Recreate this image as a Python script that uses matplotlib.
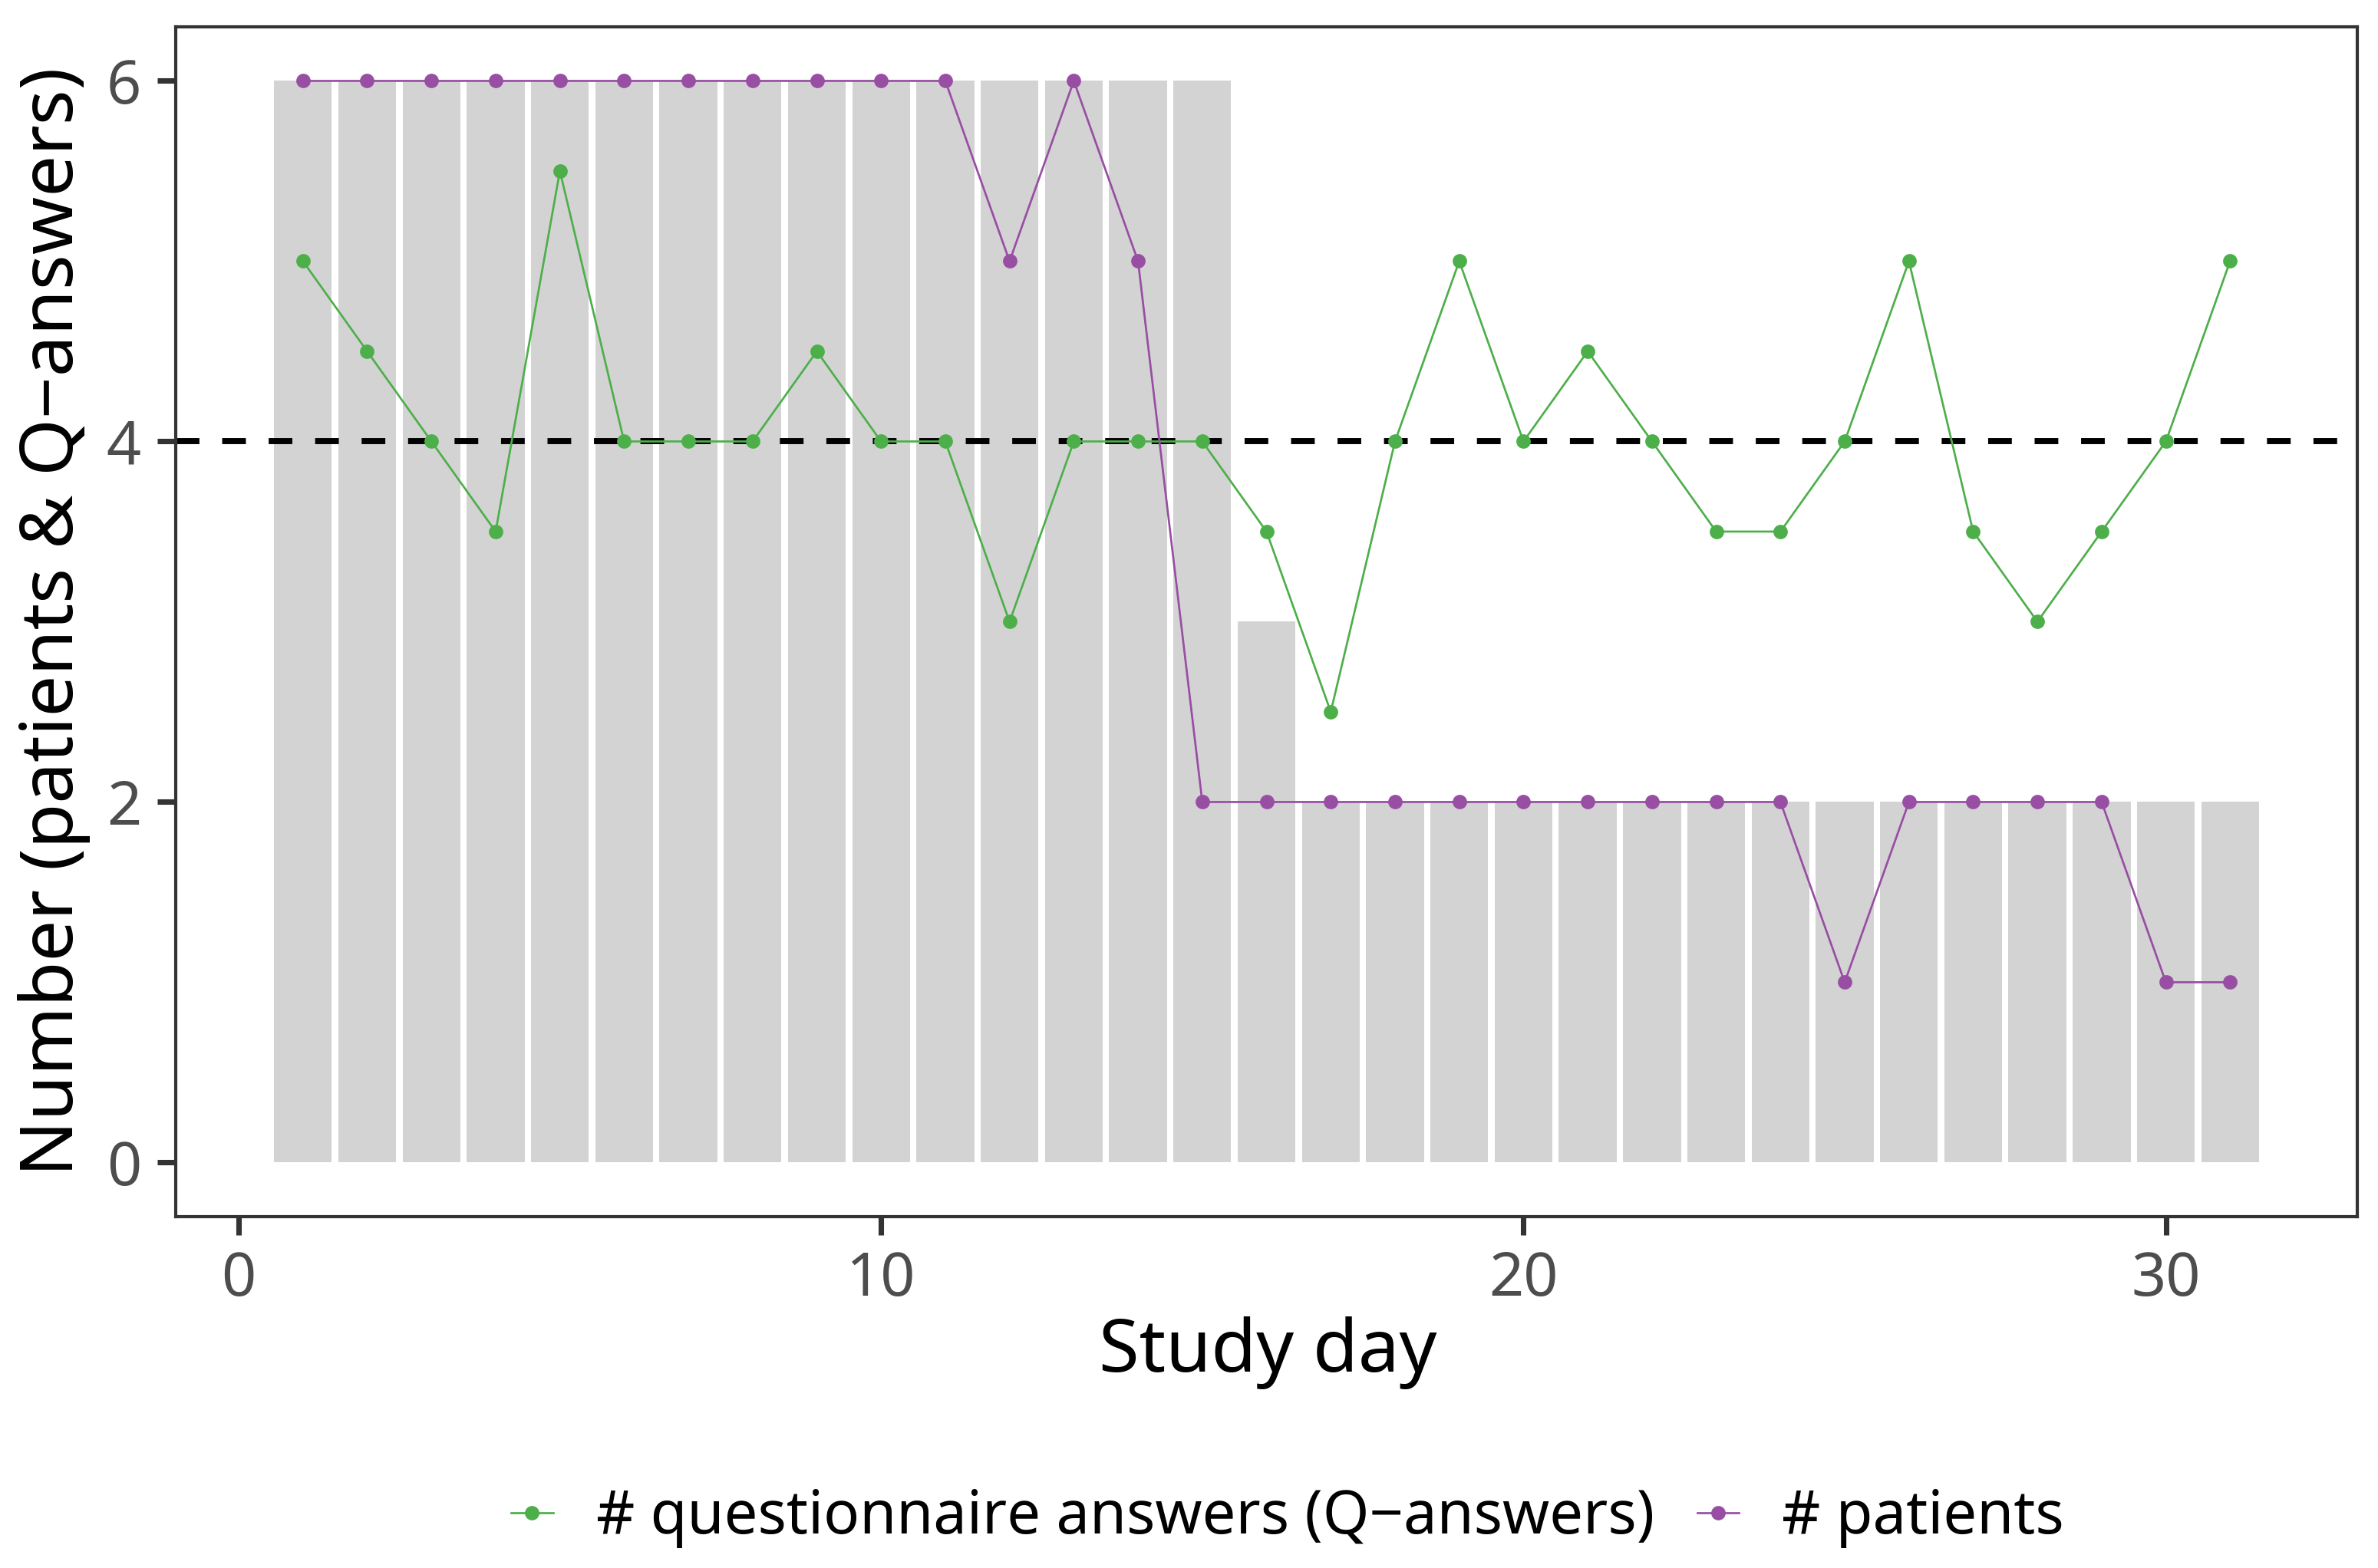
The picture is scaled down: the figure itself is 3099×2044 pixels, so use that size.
import matplotlib
matplotlib.use("Agg")
import matplotlib.pyplot as plt
from matplotlib.lines import Line2D

# data
days = list(range(1, 32))
bar_counts = [6] * 15 + [3] + [2] * 15
patients = [6, 6, 6, 6, 6, 6, 6, 6, 6, 6, 6, 5, 6, 5, 2,
            2, 2, 2, 2, 2, 2, 2, 2, 2, 1, 2, 2, 2, 2, 1, 1]
q_answers = [5, 4.5, 4, 3.5, 5.5, 4, 4, 4, 4.5, 4, 4, 3, 4, 4, 4,
             3.5, 2.5, 4, 5, 4, 4.5, 4, 3.5, 3.5, 4, 5, 3.5, 3, 3.5, 4, 5]
threshold = 4
x_ticks = [0, 10, 20, 30]
y_ticks = [0, 2, 4, 6]
legend_labels = ["# questionnaire answers (Q\u2212answers)", "# patients"]

GREEN = "#4DAF4A"
PURPLE = "#984EA3"
LW = 0.65
MS = 3.5

plt.rcParams["font.family"] = ["Noto Sans", "DejaVu Sans"]

fig = plt.figure(figsize=(3099 / 300, 2044 / 300), dpi=300)
ax = fig.add_axes([0.0739, 0.2241, 0.9174, 0.7588])

# bars per day, threshold, then the two series
ax.bar(days, bar_counts, width=0.9, color="#D3D3D3", zorder=1)
ax.axhline(threshold, color="black", linewidth=1.9, dashes=(3.9, 3.75), zorder=2)
ax.plot(days, q_answers, color=GREEN, linewidth=LW, marker="o", markersize=MS, zorder=3)
ax.plot(days, patients, color=PURPLE, linewidth=LW, marker="o", markersize=MS, zorder=4)

ax.set_xlim(-0.98, 32.98)
ax.set_ylim(-0.3, 6.3)
ax.set_xticks(x_ticks)
ax.set_yticks(y_ticks)
ax.tick_params(axis="both", colors="#333333", labelcolor="#4D4D4D", labelsize=19,
               length=5.8, width=1.7)
ax.tick_params(axis="x", pad=4.5)
ax.tick_params(axis="y", pad=5)
for spine in ax.spines.values():
    spine.set_color("#333333")
    spine.set_linewidth(1.0)

fig.text(0.533, 0.137, "Study day", fontsize=23, ha="center", va="center")
fig.text(0.0226, 0.6037, "Number (patients & Q\u2212answers)", fontsize=23,
         rotation=90, ha="center", va="center")

handles = [
    Line2D([], [], color=GREEN, linewidth=LW, marker="o", markersize=MS),
    Line2D([], [], color=PURPLE, linewidth=LW, marker="o", markersize=MS),
]
fig.legend(handles, legend_labels,
           loc="center", bbox_to_anchor=(0.5415, 0.032), ncol=2, frameon=False,
           fontsize=18.7, handlelength=0.7, handletextpad=0.72, columnspacing=0.72,
           borderaxespad=0, borderpad=0)

fig.savefig("out.png", dpi=300)
